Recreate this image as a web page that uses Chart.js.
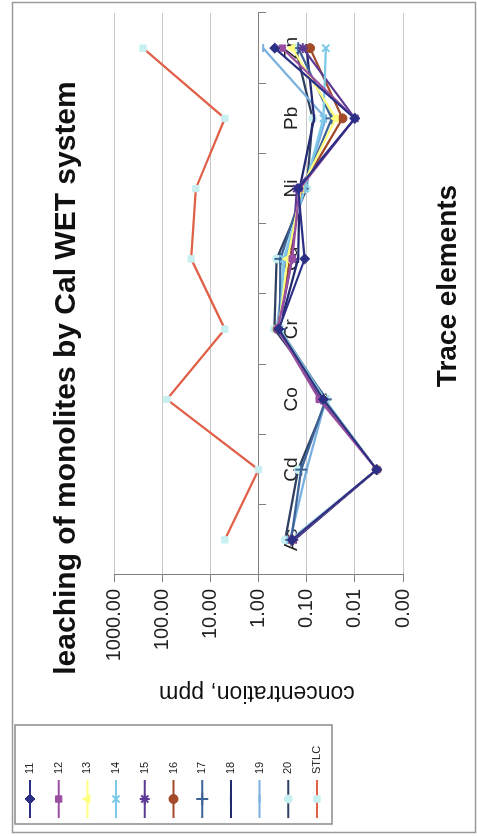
<!DOCTYPE html>
<html>
<head>
<meta charset="utf-8">
<script src="https://cdn.jsdelivr.net/npm/chart.js@4.4.1/dist/chart.umd.min.js"></script>
<style>
  html, body { margin: 0; padding: 0; background: #fff; overflow: hidden; }
  /* the chart is drawn landscape and turned on its side */
  #wrap {
    position: absolute; left: 0; top: 0;
    width: 836px; height: 477px;
    transform-origin: 0 0;
    transform: translate(0, 836px) rotate(-90deg);
  }
</style>
</head>
<body>
<div id="wrap"><canvas id="chart" width="836" height="477"></canvas></div>
<script>
// ---- data ----
const elements = ['As', 'Cd', 'Co', 'Cr', 'Cu', 'Ni', 'Pb', 'Zn'];

const s11 = [0.20, 0.0035, 0.045, 0.38, 0.11, 0.15, 0.010, 0.46];
const s12 = [0.20, 0.0035, 0.055, 0.40, 0.20, 0.14, 0.010, 0.32];
const s13 = [0.20, 0.0035, 0.045, 0.38, 0.25, 0.13, 0.025, 0.20];
const s14 = [0.22, 0.0035, 0.042, 0.36, 0.30, 0.11, 0.045, 0.040];
const s15 = [0.19, 0.0035, 0.050, 0.38, 0.20, 0.16, 0.010, 0.12];
const s16 = [0.20, 0.0035, 0.045, 0.40, 0.22, 0.13, 0.018, 0.085];
const s17 = [0.21, 0.13, 0.040, 0.36, 0.35, 0.12, 0.030, 0.15];
const s18 = [0.18, 0.0035, 0.045, 0.37, 0.15, 0.14, 0.070, 0.10];
const s19 = [0.22, 0.10, 0.040, 0.42, 0.28, 0.11, 0.040, 0.80];
const s20 = [0.28, 0.15, 0.038, 0.47, 0.42, 0.10, 0.075, 0.17];
const stlc = [5, 1, 80, 5, 25, 20, 5, 250];

const seriesNames = ['11', '12', '13', '14', '15', '16', '17', '18', '19', '20', 'STLC'];
const seriesData = [s11, s12, s13, s14, s15, s16, s17, s18, s19, s20, stlc];
const tickValues = [0.001, 0.01, 0.1, 1, 10, 100, 1000];

// ---- styles ----
const FONT = "'Liberation Sans', Arial, sans-serif";
const looks = [
  { line: '#2B2F86', fill: '#2B2F86', shape: 'rectRot', r: 5 },
  { line: '#9B4FA0', fill: '#9B4FA0', shape: 'rect', r: 4.5 },
  { line: '#FFFF80', fill: '#FFFF80', shape: 'triangle', r: 5 },
  { line: '#7CC8E8', fill: '#7CC8E8', shape: 'crossRot', r: 5 },
  { line: '#5B3A94', fill: '#5B3A94', shape: 'star', r: 5 },
  { line: '#A34A28', fill: '#A34A28', shape: 'circle', r: 4.5 },
  { line: '#3C6296', fill: '#3C6296', shape: 'cross', r: 6 },
  { line: '#232A72', fill: '#232A72', shape: 'line', r: 4 },
  { line: '#7AB0E0', fill: '#7AB0E0', shape: 'line', r: 4 },
  { line: '#2F4060', fill: '#C8F0F0', shape: 'circle', r: 4 },
  { line: '#E06048', fill: '#C8F0F0', shape: 'rect', r: 4.5 }
];

const datasets = seriesNames.map((name, i) => ({
  label: name,
  data: seriesData[i],
  borderColor: looks[i].line,
  backgroundColor: looks[i].fill,
  borderWidth: 2.2,
  pointStyle: looks[i].shape,
  pointRadius: looks[i].r,
  pointBorderColor: looks[i].fill,
  pointBackgroundColor: looks[i].fill,
  pointBorderWidth: (looks[i].shape === 'crossRot' || looks[i].shape === 'cross' || looks[i].shape === 'star' || looks[i].shape === 'line') ? 2 : 1,
  tension: 0
}));

// frame, titles and legend drawn on the canvas
const decorations = {
  id: 'decorations',
  beforeDraw(chart) {
    const ctx = chart.ctx;
    ctx.save();
    ctx.fillStyle = '#fff';
    ctx.fillRect(0, 0, chart.width, chart.height);
    ctx.strokeStyle = '#9a9a9a';
    ctx.lineWidth = 1.5;
    ctx.strokeRect(3.5, 12.5, 830, 463);
    ctx.restore();
  },
  afterDraw(chart) {
    const ctx = chart.ctx;
    ctx.save();
    ctx.fillStyle = '#111';
    ctx.textAlign = 'center';
    ctx.textBaseline = 'middle';
    ctx.font = 'bold 30px ' + FONT;
    ctx.fillText('leaching of monolites by Cal WET system', 458, 67);
    ctx.font = 'bold 28px ' + FONT;
    ctx.fillText('Trace elements', 550, 448);

    ctx.save();
    ctx.translate(144, 257);
    ctx.rotate(-Math.PI / 2);
    ctx.font = '23px ' + FONT;
    ctx.fillText('concentration, ppm', 0, 0);
    ctx.restore();

    // legend box
    ctx.strokeStyle = '#8a8a8a';
    ctx.lineWidth = 1.5;
    ctx.strokeRect(12, 15, 99, 317);
    ctx.font = '11px ' + FONT;
    ctx.textAlign = 'left';
    seriesNames.forEach((name, i) => {
      const y = 30 + i * 28.7;
      ctx.strokeStyle = looks[i].line;
      ctx.lineWidth = 2;
      ctx.beginPath();
      ctx.moveTo(18, y);
      ctx.lineTo(56, y);
      ctx.stroke();
      ctx.fillStyle = looks[i].fill;
      ctx.strokeStyle = looks[i].fill;
      ctx.lineWidth = datasets[i].pointBorderWidth;
      Chart.helpers.drawPoint(ctx, { pointStyle: looks[i].shape, radius: looks[i].r, rotation: 0, borderWidth: datasets[i].pointBorderWidth }, 37, y);
      ctx.fillStyle = '#222';
      ctx.fillText(name, 62, y);
    });
    ctx.restore();
  }
};

new Chart(document.getElementById('chart'), {
  type: 'line',
  data: { labels: elements, datasets: datasets },
  plugins: [decorations],
  options: {
    responsive: false,
    animation: false,
    devicePixelRatio: 1,
    layout: { padding: { left: 0, top: 114, right: 13, bottom: 74 } },
    plugins: {
      legend: { display: false },
      title: { display: false },
      tooltip: { enabled: false }
    },
    scales: {
      y: {
        type: 'logarithmic',
        min: 0.001,
        max: 1000,
        afterBuildTicks: s => { s.ticks = tickValues.map(v => ({ value: v })); },
        afterFit: s => { s.width = 261; },
        ticks: {
          callback: v => Number(v).toFixed(2),
          font: { size: 20, family: FONT },
          color: '#222',
          padding: 7
        },
        grid: { color: '#c8c8c8', tickColor: '#808080', tickLength: 7 },
        border: { color: '#808080', width: 1 }
      },
      x: {
        type: 'category',
        offset: true,
        position: { y: 1 },
        grid: { drawOnChartArea: false, drawTicks: true, tickLength: 7, offset: true, color: '#808080' },
        border: { color: '#808080', width: 1 },
        ticks: {
          font: { size: 19, family: FONT },
          color: '#222',
          padding: 15,
          maxRotation: 0,
          autoSkip: false
        }
      }
    }
  }
});
</script>
</body>
</html>
